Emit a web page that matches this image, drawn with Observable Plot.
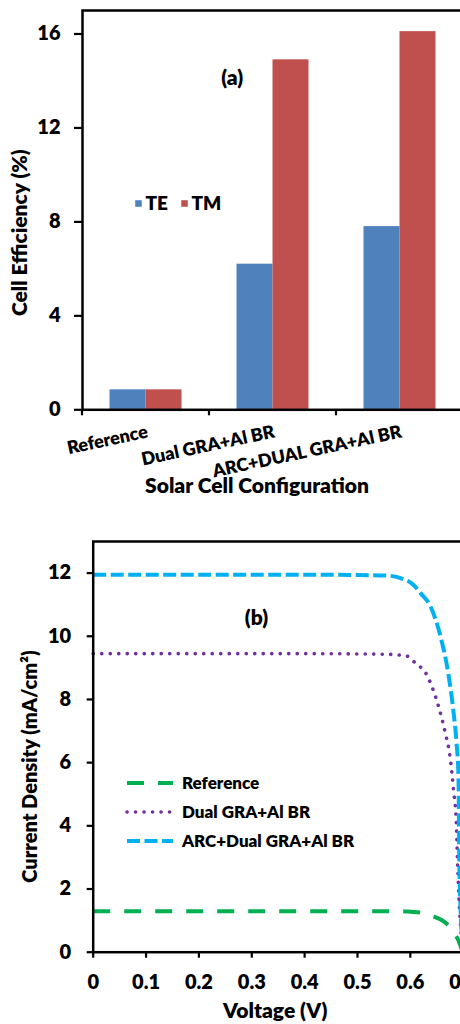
<!DOCTYPE html>
<html><head><meta charset="utf-8">
<script src="https://cdn.jsdelivr.net/npm/d3@7"></script>
<script src="https://cdn.jsdelivr.net/npm/@observablehq/plot@0.6"></script>
<style>
html,body{margin:0;padding:0;background:#fff;overflow:hidden;width:460px;height:1024px;}
#chart svg{display:block;max-width:none !important;}
</style></head><body><div id="chart"></div>
<script>
// ---------- Panel (a) data ----------
const categories = ["Reference", "Dual GRA+Al BR", "ARC+DUAL GRA+Al BR"];
const series = ["TE", "TM"];
const seriesColors = ["#4F81BD", "#C0504D"];
const teValues = [0.85, 6.2, 7.8];
const tmValues = [0.85, 14.9, 16.1];
const effTicks = [0, 4, 8, 12, 16];

// ---------- Panel (b) data ----------
const curveNames = ["Reference", "Dual GRA+Al BR", "ARC+Dual GRA+Al BR"];
const curveColors = ["#00B050", "#7030A0", "#00B0F0"];
const refV  = [0, 0.1, 0.2, 0.3, 0.4, 0.5, 0.58, 0.60, 0.625, 0.64, 0.653, 0.665, 0.675, 0.685, 0.691, 0.697];
const refJ  = [1.30, 1.30, 1.30, 1.30, 1.30, 1.30, 1.30, 1.28, 1.24, 1.15, 1.07, 0.95, 0.79, 0.55, 0.37, 0.10];
const dualV = [0, 0.1, 0.2, 0.3, 0.4, 0.5, 0.556, 0.594, 0.609, 0.631, 0.643, 0.653, 0.666, 0.675, 0.682, 0.687, 0.689, 0.692, 0.70];
const dualJ = [9.45, 9.45, 9.45, 9.45, 9.45, 9.44, 9.43, 9.37, 9.16, 8.78, 8.31, 7.80, 6.95, 6.20, 5.10, 4.10, 3.00, 1.70, 0.00];
const arcV  = [0, 0.1, 0.2, 0.3, 0.4, 0.5, 0.556, 0.58, 0.605, 0.62, 0.638, 0.657, 0.672, 0.681, 0.687, 0.691, 0.693, 0.70];
const arcJ  = [11.95, 11.95, 11.95, 11.95, 11.95, 11.94, 11.92, 11.85, 11.64, 11.35, 10.95, 10.0, 8.8, 7.7, 6.7, 5.6, 2.5, 0.0];
const voltTicks = [0, 0.1, 0.2, 0.3, 0.4, 0.5, 0.6, 0.7];
const voltTickLabels = ["0", "0.1", "0.2", "0.3", "0.4", "0.5", "0.6", "0.7"];
const currTicks = [0, 2, 4, 6, 8, 10, 12];

const FONT = "Lato, 'Open Sans', sans-serif";
const W = 800;
const baseStyle = {fontFamily: FONT, fontWeight: W, color: "#000", background: "#fff", maxWidth: "none", overflow: "hidden"};

// ---------- Panel (a) ----------
const barData = categories.flatMap((c, i) => [
  {cat: c, series: "TE", value: teValues[i]},
  {cat: c, series: "TM", value: tmValues[i]}
]);

function xBoundaryTicks(index, scales, values, dims) {
  const g = d3.create("svg:g").attr("stroke", "#000").attr("stroke-width", 2.2);
  const y0 = dims.height - dims.marginBottom;
  for (const c of categories) {
    const x = scales.x(c);
    g.append("line").attr("x1", x).attr("x2", x).attr("y1", y0).attr("y2", y0 + 6);
  }
  return g.node();
}

const plotA = Plot.plot({
  width: 470, height: 512,
  marginLeft: 82, marginRight: 7, marginTop: 10, marginBottom: 102.7,
  style: {...baseStyle, fontSize: "20px"},
  x: {domain: categories, padding: 0, axis: null},
  y: {domain: [0, 17], axis: null},
  color: {domain: series, range: seriesColors},
  marks: [
    Plot.barY(barData.filter(d => d.series === "TE"), {x: "cat", y: "value", fill: "series", insetLeft: 27.5, insetRight: 63.5}),
    Plot.barY(barData.filter(d => d.series === "TM"), {x: "cat", y: "value", fill: "series", insetLeft: 63.5, insetRight: 27.5}),
    Plot.frame({stroke: "#000", strokeWidth: 2.5}),
    Plot.axisY(effTicks, {tickSize: 8, tickPadding: 14, strokeWidth: 2.2, fontSize: 20, fontWeight: W, label: null}),
    xBoundaryTicks,
    Plot.text(categories, {x: d => d, frameAnchor: "bottom", dy: 15, rotate: -12, textAnchor: "end", lineAnchor: "top", fontSize: 18, fontWeight: W, fill: "#000"}),
    Plot.text(["Solar Cell Configuration"], {frameAnchor: "bottom", textAnchor: "middle", dx: -16, dy: 83.5, lineAnchor: "bottom", fontSize: 21, fontWeight: W, fill: "#000"}),
    Plot.text(["Cell Efficiency (%)"], {frameAnchor: "left", textAnchor: "middle", dx: -62, dy: 22.5, rotate: -90, lineAnchor: "middle", fontSize: 21, fontWeight: W, fill: "#000"}),
    Plot.text(["(a)"], {frameAnchor: "top-left", textAnchor: "middle", dx: 149.7, dy: 68, lineAnchor: "middle", fontSize: 21, fontWeight: W, fill: "#000"}),
    ...series.flatMap((s, i) => [
      Plot.dot([s], {frameAnchor: "top-left", dx: 56 + 46 * i, dy: 193, symbol: "square", r: 3.7, fill: seriesColors[i], stroke: "none"}),
      Plot.text([s], {frameAnchor: "top-left", dx: 63 + 46 * i, dy: 193, textAnchor: "start", lineAnchor: "middle", fontSize: 19, fontWeight: W, fill: "#000"})
    ])
  ]
});

// ---------- Panel (b) ----------
const toPts = (V, J) => V.map((v, i) => ({v, j: J[i]}));
const curves = [toPts(refV, refJ), toPts(dualV, dualJ), toPts(arcV, arcJ)];
const lineStyles = [
  {strokeWidth: 4, strokeDasharray: "17 14", strokeLinecap: "butt"},
  {strokeWidth: 3.6, strokeDasharray: "0.1 8.4", strokeLinecap: "round"},
  {strokeWidth: 4, strokeDasharray: "13 4.5", strokeLinecap: "butt"}
];

function legendB(index, scales, values, dims) {
  const g = d3.create("svg:g");
  curveNames.forEach((name, i) => {
    const y = dims.marginTop + 242 + i * 29;
    const x0 = dims.marginLeft + 34.3;
    const st = lineStyles[i];
    g.append("line").attr("x1", x0).attr("x2", x0 + 46).attr("y1", y).attr("y2", y)
      .attr("stroke", curveColors[i]).attr("stroke-width", st.strokeWidth)
      .attr("stroke-dasharray", st.strokeDasharray).attr("stroke-linecap", st.strokeLinecap);
    g.append("text").attr("x", x0 + 55).attr("y", y).attr("dy", "0.36em")
      .attr("text-anchor", "start")
      .attr("font-size", 17).attr("font-weight", W).attr("fill", "#000").text(name);
  });
  return g.node();
}

const plotB = Plot.plot({
  width: 470, height: 512,
  marginLeft: 92.7, marginRight: 7.3, marginTop: 29, marginBottom: 72.3,
  style: {...baseStyle, fontSize: "20px"},
  x: {domain: [0, 0.7], axis: null},
  y: {domain: [0, 13], axis: null},
  marks: [
    ...curves.map((pts, i) => Plot.line(pts, {x: "v", y: "j", stroke: curveColors[i], curve: "monotone-x", ...lineStyles[i]})),
    Plot.frame({stroke: "#000", strokeWidth: 2.5}),
    Plot.axisY(currTicks, {tickSize: 6, tickPadding: 16, strokeWidth: 2.2, fontSize: 20, fontWeight: W, label: null}),
    Plot.axisX(voltTicks, {tickSize: 6, tickPadding: 17, strokeWidth: 2.2, fontSize: 20, fontWeight: W, label: null,
      tickFormat: d => voltTickLabels[voltTicks.indexOf(d)]}),
    Plot.text(["Voltage (V)"], {frameAnchor: "bottom", textAnchor: "middle", dx: -3, dy: 65.3, lineAnchor: "bottom", fontSize: 21, fontWeight: W, fill: "#000"}),
    Plot.text(["Current Density (mA/cm²)"], {frameAnchor: "left", textAnchor: "middle", dx: -62.7, dy: 19.7, rotate: -90, lineAnchor: "middle", fontSize: 20, fontWeight: W, fill: "#000"}),
    Plot.text(["(b)"], {frameAnchor: "top-left", textAnchor: "middle", dx: 163.3, dy: 77, lineAnchor: "middle", fontSize: 21, fontWeight: W, fill: "#000"}),
    legendB
  ]
});

const chart = document.getElementById("chart");
chart.appendChild(plotA);
chart.appendChild(plotB);
</script></body></html>
